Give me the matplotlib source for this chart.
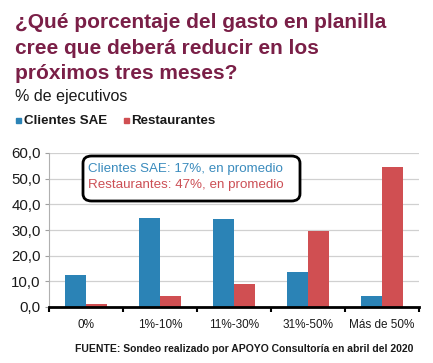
import matplotlib
matplotlib.use("Agg")
import matplotlib.pyplot as plt
from matplotlib.patches import FancyBboxPatch
import numpy as np

categories = ["0%", "1%-10%", "11%-30%", "31%-50%", "Más de 50%"]
clientes_sae = [12.4, 34.5, 34.1, 13.5, 4.4]
restaurantes = [1.2, 4.4, 9.0, 29.8, 54.7]
yticks = [0, 10, 20, 30, 40, 50, 60]

BLUE = "#2b83b6"
RED = "#d04f52"
TITLE = "#7a1f47"

plt.rcParams['font.family'] = ['Liberation Sans', 'DejaVu Sans']

W, H = 433, 363
fig = plt.figure(figsize=(W / 100, H / 100), dpi=100)

def fx(px):
    return px / W

def fy(py):
    return 1 - py / H

# Title
title_lines = ["¿Qué porcentaje del gasto en planilla",
               "cree que deberá reducir en los",
               "próximos tres meses?"]
for i, line in enumerate(title_lines):
    fig.text(fx(15), fy(28 + i * 25.5), line, fontsize=15, fontweight='bold',
             color=TITLE, ha='left', va='baseline')

fig.text(fx(15), fy(101), "% de ejecutivos", fontsize=11.5, color='#1a1a1a',
         ha='left', va='baseline')

# Legend
fig.patches.append(FancyBboxPatch((fx(16), fy(123)), fx(5), 5 / H, boxstyle='square,pad=0',
                                  transform=fig.transFigure, color=BLUE))
fig.text(fx(24), fy(124), "Clientes SAE", fontsize=9.6, fontweight='bold',
         color='#1a1a1a', ha='left', va='baseline')
fig.patches.append(FancyBboxPatch((fx(124), fy(123)), fx(5), 5 / H, boxstyle='square,pad=0',
                                  transform=fig.transFigure, color=RED))
fig.text(fx(131), fy(124), "Restaurantes", fontsize=9.6, fontweight='bold',
         color='#1a1a1a', ha='left', va='baseline')

# Axes
ax = fig.add_axes([fx(49), fy(307), fx(419) - fx(49), fy(153) - fy(307)])
x = np.arange(len(categories))
bw = 0.285
ax.bar(x - bw / 2, clientes_sae, width=bw, color=BLUE, zorder=3)
ax.bar(x + bw / 2, restaurantes, width=bw, color=RED, zorder=3)

ax.set_xlim(-0.5, len(categories) - 0.5)
ax.set_ylim(0, 60)
ax.set_yticks(yticks)
ax.set_yticklabels([f"{v:.1f}".replace('.', ',') for v in yticks], fontsize=10.8, color='#1a1a1a')
ax.yaxis.grid(True, color='#d0d0d0', linewidth=0.9, zorder=0)
ax.set_axisbelow(True)

ax.set_xticks(x)
ax.set_xticklabels(categories, fontsize=8.5, color='#1a1a1a')
ax.tick_params(axis='x', which='major', length=0, pad=9)
ax.set_xticks(np.arange(-0.5, len(categories)), minor=True)
ax.tick_params(axis='x', which='minor', length=3.5, width=1.5, color='black', direction='out')
ax.tick_params(axis='y', length=3, width=0.8, color='#a0a0a0', pad=3)

for s in ['top', 'right']:
    ax.spines[s].set_visible(False)
ax.spines['left'].set_color('#b0b0b0')
ax.spines['left'].set_linewidth(0.8)
ax.spines['bottom'].set_color('black')
ax.spines['bottom'].set_linewidth(2)
ax.spines['bottom'].set_zorder(4)

# Annotation box
box = FancyBboxPatch((fx(83), fy(201)), fx(300) - fx(83), (201 - 156) / H,
                     boxstyle='round,pad=0,rounding_size=0.02',
                     transform=fig.transFigure, facecolor='white', edgecolor='black',
                     linewidth=2, zorder=5)
fig.patches.append(box)
fig.text(fx(88), fy(169), "Clientes SAE: 17%, en promedio", fontsize=9.6, color='#3a8bbd',
         ha='left', va='center', zorder=6)
fig.text(fx(88), fy(185), "Restaurantes: 47%, en promedio", fontsize=9.6, color='#cc4f55',
         ha='left', va='center', zorder=6)

fig.text(fx(413), fy(349), "FUENTE: Sondeo realizado por APOYO Consultoría en abril del 2020",
         fontsize=7.5, fontweight='bold', color='#1a1a1a', ha='right', va='center')

fig.savefig("out.png", dpi=100)
